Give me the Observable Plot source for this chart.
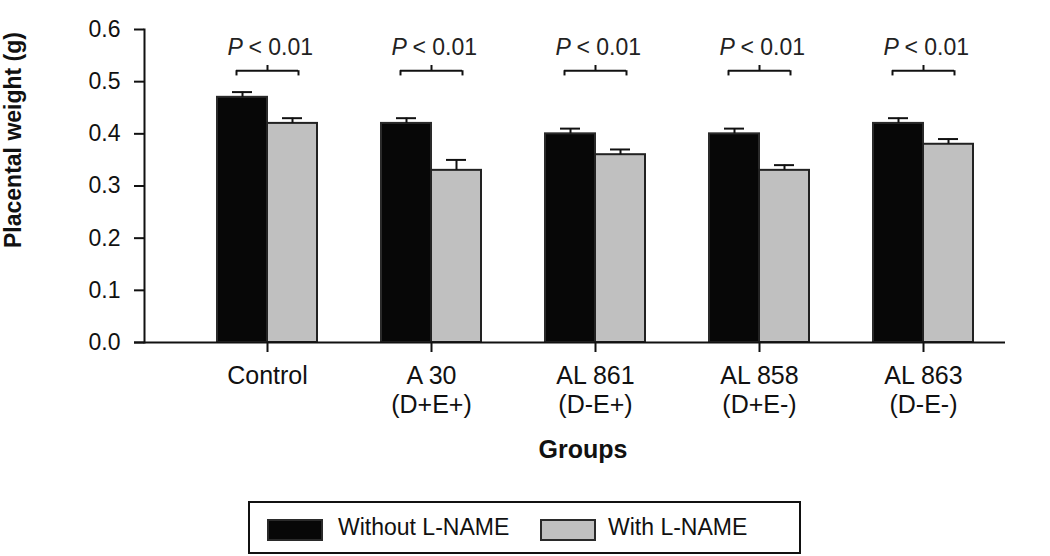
<!DOCTYPE html>
<html>
<head>
<meta charset="utf-8">
<script src="https://cdn.jsdelivr.net/npm/d3@7"></script>
<script src="https://cdn.jsdelivr.net/npm/@observablehq/plot@0.6"></script>
<style>
  html, body { margin: 0; padding: 0; background: #fff; }
  body { width: 1050px; height: 556px; overflow: hidden; font-family: "Liberation Sans", Arial, sans-serif; }
  #legend {
    position: absolute; left: 248px; top: 501px; width: 549px; height: 49px;
    border: 2px solid #111; box-sizing: content-box;
    font-size: 23px; color: #111;
  }
  .sw { position: absolute; top: 16px; width: 52px; height: 18px; border: 2px solid #2a2a2a; }
  .lt { position: absolute; top: 11px; line-height: 26px; }
</style>
</head>
<body>
<div id="chart"></div>
<div id="legend">
  <div class="sw" style="left:17px; background:#070707;"></div>
  <div class="lt" style="left:88px;">Without L-NAME</div>
  <div class="sw" style="left:290px; background:#c0c0c0;"></div>
  <div class="lt" style="left:358px;">With L-NAME</div>
</div>
<script>
const groups = ["Control", "A 30", "AL 861", "AL 858", "AL 863"];
const subLabels = ["", "(D+E+)", "(D-E+)", "(D+E-)", "(D-E-)"];
const withoutLName = [0.47, 0.42, 0.40, 0.40, 0.42];
const withoutErr   = [0.01, 0.01, 0.01, 0.01, 0.01];
const withLName    = [0.42, 0.33, 0.36, 0.33, 0.38];
const withErr      = [0.01, 0.02, 0.01, 0.01, 0.01];
const pValues      = ["< 0.01", "< 0.01", "< 0.01", "< 0.01", "< 0.01"];
const yTicks       = [0, 0.1, 0.2, 0.3, 0.4, 0.5, 0.6];

const rows = groups.map((g, i) => ({
  group: g, sub: subLabels[i],
  without: withoutLName[i], withoutTop: withoutLName[i] + withoutErr[i],
  with: withLName[i], withTop: withLName[i] + withErr[i],
  p: pValues[i]
}));

const bracketY = 0.521, bracketLow = 0.511, bracketHigh = 0.531, pY = 0.566;
const ink = "#111";

const chart = Plot.plot({
  width: 1050, height: 490,
  marginLeft: 144, marginRight: 45, marginTop: 29, marginBottom: 148,
  x: { domain: groups, range: [185, 1005], padding: 0 },
  y: { domain: [0, 0.6] },
  style: { fontFamily: "'Liberation Sans', Arial, sans-serif", fontSize: "23px", color: ink, background: "white", overflow: "visible" },
  marks: [
    Plot.barY(rows, { x: "group", y: "without", fill: "#070707", stroke: "#2a2a2a", strokeWidth: 2, insetLeft: 32, insetRight: 82 }),
    Plot.barY(rows, { x: "group", y: "with", fill: "#c0c0c0", stroke: "#222", strokeWidth: 2, insetLeft: 82, insetRight: 32 }),
    // error bars
    Plot.ruleX(rows, { x: "group", y1: "without", y2: "withoutTop", dx: -25, stroke: ink, strokeWidth: 2 }),
    Plot.tickY(rows, { x: "group", y: "withoutTop", insetLeft: 47, insetRight: 97, stroke: ink, strokeWidth: 2 }),
    Plot.ruleX(rows, { x: "group", y1: "with", y2: "withTop", dx: 25, stroke: ink, strokeWidth: 2 }),
    Plot.tickY(rows, { x: "group", y: "withTop", insetLeft: 97, insetRight: 47, stroke: ink, strokeWidth: 2 }),
    // significance brackets
    Plot.tickY(rows, { x: "group", y: () => bracketY, insetLeft: 51, insetRight: 51, stroke: ink, strokeWidth: 2 }),
    Plot.ruleX(rows, { x: "group", y1: () => bracketLow, y2: () => bracketY, dx: -31, stroke: ink, strokeWidth: 2 }),
    Plot.ruleX(rows, { x: "group", y1: () => bracketLow, y2: () => bracketY, dx: 31, stroke: ink, strokeWidth: 2 }),
    Plot.ruleX(rows, { x: "group", y1: () => bracketY, y2: () => bracketHigh, stroke: ink, strokeWidth: 2 }),
    Plot.text(rows, { x: "group", y: () => pY, text: () => "P", fontStyle: "italic", textAnchor: "start", dx: -40, fontSize: 23, fill: "#222" }),
    Plot.text(rows, { x: "group", y: () => pY, text: "p", textAnchor: "start", dx: -19, fontSize: 23, fill: "#222" }),
    // axes
    Plot.axisY({ ticks: yTicks, tickFormat: d3.format(".1f"), tickSize: 10, tickPadding: 14, fontSize: 23, strokeWidth: 2, label: null }),
    Plot.axisX({ tickSize: 10, tickPadding: 11, fontSize: 25, lineHeight: 1.16, strokeWidth: 2, label: null,
      tickFormat: (d) => { const i = groups.indexOf(d); return subLabels[i] ? d + "\n" + subLabels[i] : d; } }),
    Plot.frame({ anchor: "left", stroke: ink, strokeWidth: 2 }),
    Plot.ruleY([0], { stroke: ink, strokeWidth: 2, insetLeft: -10 }),
    Plot.text(["Placental weight (g)"], { frameAnchor: "left", textAnchor: "middle", lineAnchor: "middle", dx: -131, dy: -46, rotate: -90, fontWeight: "bold", fontSize: 23, fill: ink }),
    Plot.text(["Groups"], { frameAnchor: "bottom", textAnchor: "middle", lineAnchor: "middle", dx: 8, dy: 107, fontWeight: "bold", fontSize: 25, fill: ink })
  ]
});
document.getElementById("chart").appendChild(chart);
</script>
</body>
</html>
